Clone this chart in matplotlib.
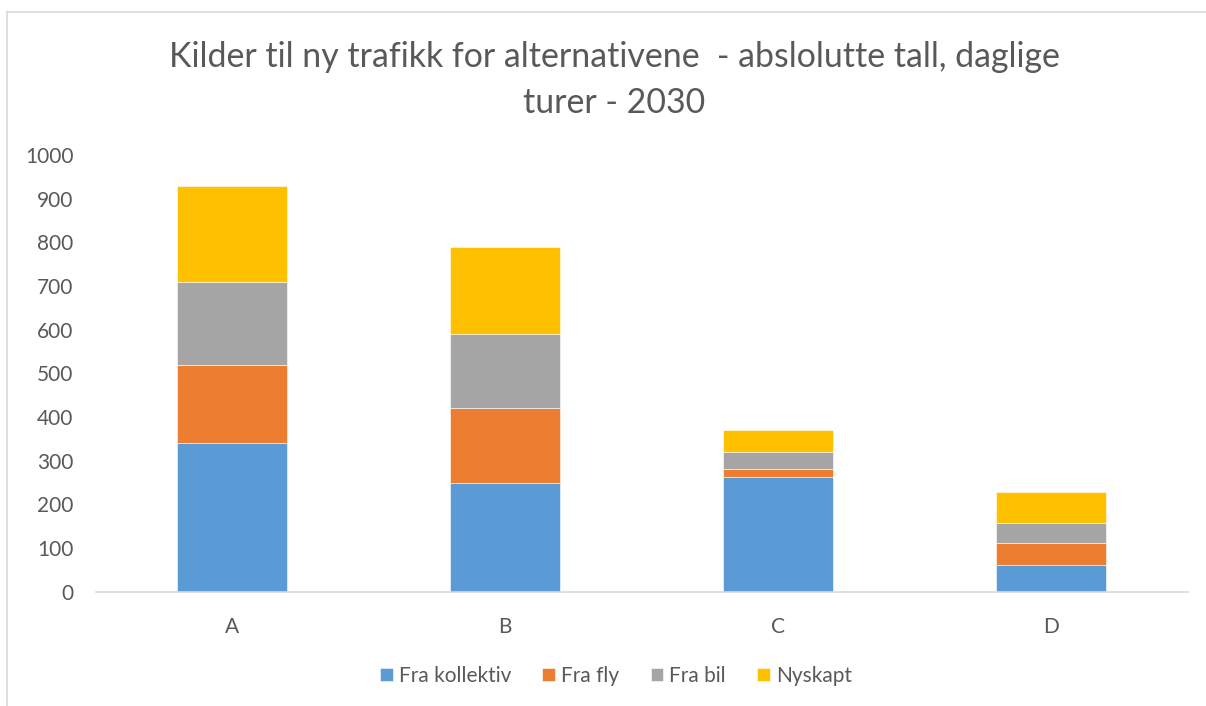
import matplotlib.pyplot as plt
import numpy as np

plt.rcParams['font.family'] = ['Lato', 'DejaVu Sans']

categories = ['A', 'B', 'C', 'D']
fra_kollektiv = [340, 250, 262, 60]
fra_fly = [180, 170, 18, 51]
fra_bil = [190, 170, 40, 46]
nyskapt = [220, 200, 50, 71]

series = [
    ('Fra kollektiv', fra_kollektiv, '#5B9BD5'),
    ('Fra fly', fra_fly, '#ED7D31'),
    ('Fra bil', fra_bil, '#A5A5A5'),
    ('Nyskapt', nyskapt, '#FFC000'),
]

text_col = '#595959'

fig = plt.figure(figsize=(12.06, 7.06), dpi=100)
W, H = 1206, 706
# plot area in pixels
left, right, top, bottom = 95.5, 1187.5, 155, 591.7
ax = fig.add_axes([left / W, 1 - bottom / H, (right - left) / W, (bottom - top) / H])

x = np.arange(len(categories))
base = np.zeros(len(categories))
for name, vals, col in series:
    ax.bar(x, vals, width=0.4, bottom=base, color=col, label=name,
           edgecolor='white', linewidth=0.4)
    base += np.array(vals)

ax.set_xlim(-0.5, len(categories) - 0.5)
ax.set_ylim(0, 1000)
ax.set_yticks(np.arange(0, 1001, 100))
ax.set_xticks(x)
ax.set_xticklabels(categories)

for s in ['top', 'right', 'left']:
    ax.spines[s].set_visible(False)
ax.spines['bottom'].set_color('#D9D9D9')
ax.spines['bottom'].set_linewidth(1.2)
ax.tick_params(axis='both', length=0, labelsize=15, colors=text_col)
ax.tick_params(axis='y', pad=16)
ax.tick_params(axis='x', pad=18)

# title
fig.text(614 / W, 1 - 57 / H, 'Kilder til ny trafikk for alternativene  - abslolutte tall, daglige',
         ha='center', va='center', fontsize=24.4, color=text_col)
fig.text(614 / W, 1 - 103 / H, 'turer - 2030',
         ha='center', va='center', fontsize=24.4, color=text_col)

# legend
leg = fig.legend(loc='center', bbox_to_anchor=(616 / W, 1 - 676 / H), ncol=4,
                 frameon=False, fontsize=15, handlelength=0.6, handleheight=0.6,
                 handletextpad=0.3, columnspacing=1.5)
for t in leg.get_texts():
    t.set_color(text_col)

# chart border
fig.add_artist(plt.Line2D([7 / W, 7 / W], [0, 1 - 12 / H], color='#D9D9D9', lw=1.2))
fig.add_artist(plt.Line2D([7 / W, 1], [1 - 12 / H, 1 - 12 / H], color='#D9D9D9', lw=1.2))

fig.savefig('out.png', dpi=100)
